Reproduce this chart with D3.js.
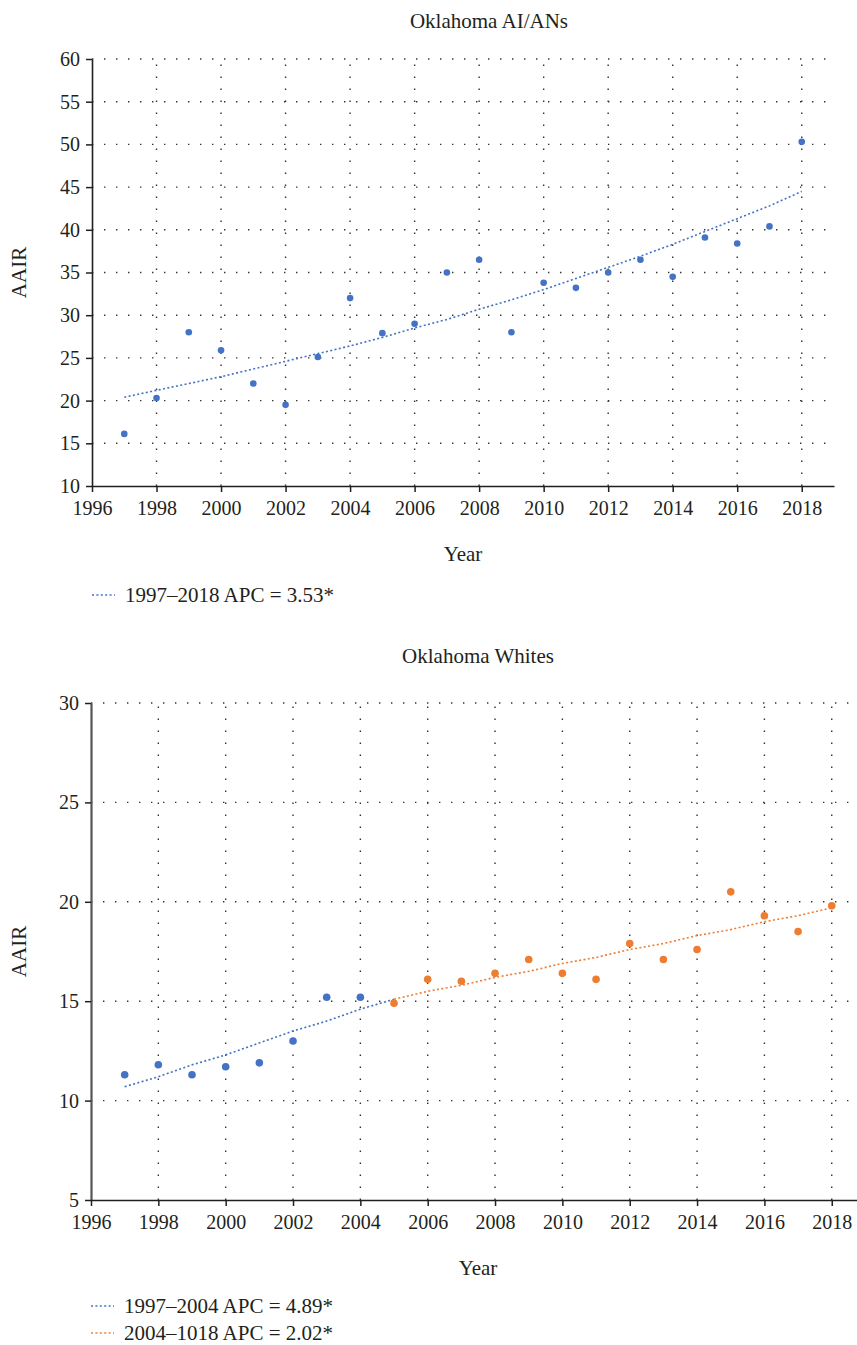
<!DOCTYPE html>
<html>
<head>
<meta charset="utf-8">
<script src="https://cdn.jsdelivr.net/npm/d3@7"></script>
<style>
  html, body { margin: 0; padding: 0; background: #fff; }
  svg { display: block; }
  text { font-family: "Liberation Serif", "Times New Roman", serif; fill: #231f20; }
</style>
</head>
<body>
<svg id="chart" width="857" height="1345"></svg>
<script>
// ---------- DATA ----------
const years = [1997, 1998, 1999, 2000, 2001, 2002, 2003, 2004, 2005, 2006, 2007,
               2008, 2009, 2010, 2011, 2012, 2013, 2014, 2015, 2016, 2017, 2018];

// Oklahoma AI/ANs
const aianTitle = "Oklahoma AI/ANs";
const aianAAIR = [16.1, 20.3, 28.0, 25.9, 22.0, 19.5, 25.1, 32.0, 27.9, 29.0, 35.0,
                  36.5, 28.0, 33.8, 33.2, 35.0, 36.5, 34.5, 39.1, 38.4, 40.4, 50.3];
const aianTrendYears = years;
const aianTrend = [20.4, 21.2, 22.0, 22.8, 23.7, 24.6, 25.5, 26.4, 27.4, 28.5, 29.5,
                   30.7, 31.8, 33.0, 34.3, 35.6, 36.9, 38.3, 39.8, 41.3, 42.8, 44.5];
const aianLegend = ["1997\u20132018 APC = 3.53*"];
const aianYTicks = [10, 15, 20, 25, 30, 35, 40, 45, 50, 55, 60];

// Oklahoma Whites
const whitesTitle = "Oklahoma Whites";
const whitesAAIR = [11.3, 11.8, 11.3, 11.7, 11.9, 13.0, 15.2, 15.2, 14.9, 16.1, 16.0,
                    16.4, 17.1, 16.4, 16.1, 17.9, 17.1, 17.6, 20.5, 19.3, 18.5, 19.8];
const whitesSegment = [0, 0, 0, 0, 0, 0, 0, 0, 1, 1, 1, 1, 1, 1, 1, 1, 1, 1, 1, 1, 1, 1];
const whitesTrend1Years = [1997, 1998, 1999, 2000, 2001, 2002, 2003, 2004, 2005];
const whitesTrend1 = [10.7, 11.2, 11.8, 12.3, 12.9, 13.5, 14.0, 14.6, 15.1];
const whitesTrend2Years = [2005, 2006, 2007, 2008, 2009, 2010, 2011, 2012, 2013,
                           2014, 2015, 2016, 2017, 2018];
const whitesTrend2 = [15.1, 15.5, 15.8, 16.2, 16.5, 16.9, 17.2, 17.6, 17.9,
                      18.3, 18.6, 19.0, 19.3, 19.7];
const whitesLegend = ["1997\u20132004 APC = 4.89*", "2004\u20131018 APC = 2.02*"];
const whitesYTicks = [5, 10, 15, 20, 25, 30];

const xTicks = [1996, 1998, 2000, 2002, 2004, 2006, 2008, 2010, 2012, 2014, 2016, 2018];
const segColors = ["#4472c4", "#ed7d31"];

// ---------- DRAW ----------
const svg = d3.select("#chart");
const FS = 20;      // tick labels
const FS_T = 21;    // titles, axis labels, legend

function drawPanel(cfg) {
  const g = svg.append("g");
  const x = d3.scaleLinear().domain(cfg.xDomain).range([cfg.left, cfg.right]);
  const y = d3.scaleLinear().domain(cfg.yDomain).range([cfg.bottom, cfg.top]);

  // grid: horizontal
  g.append("g").selectAll("line")
    .data(cfg.yTicks.filter(v => v > cfg.yDomain[0]))
    .join("line")
    .attr("x1", cfg.left).attr("x2", cfg.gridRight)
    .attr("y1", d => y(d)).attr("y2", d => y(d))
    .attr("stroke", "#333").attr("stroke-width", 1.4)
    .attr("stroke-dasharray", "1.4,10.6");
  // grid: vertical
  g.append("g").selectAll("line")
    .data(xTicks.filter(v => v > cfg.xDomain[0]))
    .join("line")
    .attr("x1", d => x(d)).attr("x2", d => x(d))
    .attr("y1", cfg.bottom).attr("y2", cfg.top)
    .attr("stroke", "#333").attr("stroke-width", 1.4)
    .attr("stroke-dasharray", "1.4,10.6");

  // axes
  const yAxis = g.append("g")
    .attr("transform", `translate(${cfg.left},0)`)
    .call(d3.axisLeft(y).tickValues(cfg.yTicks).tickSize(6).tickSizeOuter(0).tickPadding(6));
  yAxis.select(".domain").attr("stroke", cfg.yAxisColor).attr("stroke-width", cfg.yAxisWidth);
  yAxis.selectAll(".tick line").attr("stroke", "#231f20").attr("stroke-width", 1.5);
  yAxis.selectAll("text").style("font-size", FS + "px").style("font-family", "Liberation Serif").attr("fill", "#231f20");

  const xAxis = g.append("g")
    .attr("transform", `translate(0,${cfg.bottom})`)
    .call(d3.axisBottom(x).tickValues(xTicks).tickFormat(d3.format("d")).tickSize(6).tickSizeOuter(0).tickPadding(9));
  xAxis.select(".domain").attr("stroke", "#231f20").attr("stroke-width", 1.6);
  xAxis.selectAll(".tick line").attr("stroke", "#231f20").attr("stroke-width", 1.5);
  xAxis.selectAll("text").style("font-size", FS + "px").style("font-family", "Liberation Serif").attr("fill", "#231f20");

  // trend lines
  const line = d3.line().x(d => x(d[0])).y(d => y(d[1]));
  cfg.trends.forEach(t => {
    g.append("path")
      .datum(t.years.map((yr, i) => [yr, t.values[i]]))
      .attr("d", line)
      .attr("fill", "none")
      .attr("stroke", t.color)
      .attr("stroke-width", 1.6)
      .attr("stroke-dasharray", "2,2.4");
  });

  // points
  g.append("g").selectAll("circle")
    .data(years.map((yr, i) => ({ yr, v: cfg.values[i], seg: cfg.segment[i] })))
    .join("circle")
    .attr("cx", d => x(d.yr)).attr("cy", d => y(d.v))
    .attr("r", cfg.r)
    .attr("fill", d => segColors[d.seg]);

  // title
  g.append("text").attr("x", cfg.titleX).attr("y", cfg.titleY)
    .attr("text-anchor", "middle").style("font-size", FS_T + "px").text(cfg.title);
  // y label
  g.append("text")
    .attr("transform", `translate(26,${(cfg.top + cfg.bottom) / 2}) rotate(-90)`)
    .attr("text-anchor", "middle").style("font-size", FS_T + "px").text("AAIR");
  // x label
  g.append("text").attr("x", cfg.xLabelX).attr("y", cfg.xLabelY)
    .attr("text-anchor", "middle").style("font-size", FS_T + "px").text("Year");

  // legend
  cfg.legend.forEach((txt, i) => {
    const ly = cfg.legendY + i * cfg.legendGap;
    g.append("line")
      .attr("x1", cfg.left).attr("x2", cfg.left + 23)
      .attr("y1", ly).attr("y2", ly)
      .attr("stroke", cfg.trends[i].color).attr("stroke-width", 1.6)
      .attr("stroke-dasharray", "2,2.4");
    g.append("text").attr("x", cfg.left + 33).attr("y", ly + 7)
      .style("font-size", FS_T + "px").text(txt);
  });
}

drawPanel({
  title: aianTitle, titleX: 489, titleY: 28,
  left: 92, right: 834, gridRight: 827, top: 59, bottom: 486,
  xDomain: [1996, 2019], yDomain: [10, 60], yTicks: aianYTicks,
  yAxisColor: "#231f20", yAxisWidth: 1.6,
  values: aianAAIR, segment: years.map(() => 0), r: 3.3,
  trends: [{ years: aianTrendYears, values: aianTrend, color: segColors[0] }],
  legend: aianLegend, legendY: 595, legendGap: 28,
  xLabelX: 463, xLabelY: 561
});

drawPanel({
  title: whitesTitle, titleX: 478, titleY: 663,
  left: 91, right: 857, gridRight: 857, top: 703, bottom: 1200,
  xDomain: [1996, 2018.75], yDomain: [5, 30], yTicks: whitesYTicks,
  yAxisColor: "#555", yAxisWidth: 2.2,
  values: whitesAAIR, segment: whitesSegment, r: 3.8,
  trends: [
    { years: whitesTrend1Years, values: whitesTrend1, color: segColors[0] },
    { years: whitesTrend2Years, values: whitesTrend2, color: segColors[1] }
  ],
  legend: whitesLegend, legendY: 1306, legendGap: 27,
  xLabelX: 478, xLabelY: 1275
});
</script>
</body>
</html>
